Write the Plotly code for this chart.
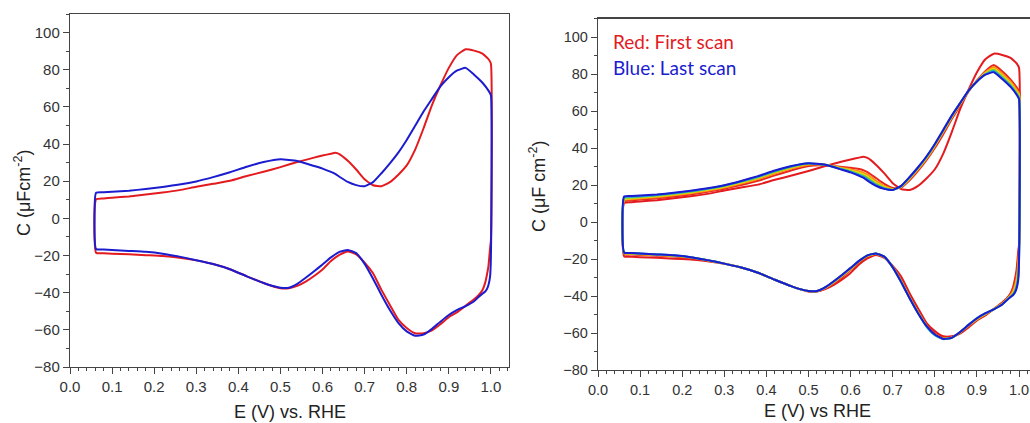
import plotly.graph_objects as go

# ---------------- data ----------------
# Anodic (upper) sweep potentials, V vs RHE
E_up = [0.062, 0.08, 0.10, 0.14, 0.18, 0.22, 0.26, 0.30, 0.34, 0.38, 0.42, 0.46, 0.50,
        0.54, 0.58, 0.60, 0.62, 0.63, 0.64, 0.66, 0.68, 0.70, 0.72, 0.74, 0.76, 0.78,
        0.80, 0.82, 0.84, 0.86, 0.88, 0.90, 0.92, 0.94, 0.96, 0.98, 0.995, 1.0]
# Cathodic (lower) sweep potentials, V vs RHE
E_dn = [1.0, 0.998, 0.994, 0.99, 0.986, 0.98, 0.97, 0.96, 0.94, 0.92, 0.90, 0.88, 0.86,
        0.84, 0.82, 0.80, 0.78, 0.76, 0.74, 0.72, 0.70, 0.68, 0.66, 0.64, 0.62, 0.60,
        0.58, 0.56, 0.54, 0.52, 0.50, 0.48, 0.46, 0.42, 0.38, 0.34, 0.30, 0.26, 0.22,
        0.18, 0.14, 0.10, 0.08, 0.062]

# Capacitance, uF cm^-2
first_up = [10.2, 10.7, 11.1, 11.8, 12.8, 13.9, 15.2, 17.0, 18.6, 20.2, 22.8, 25.1, 27.6,
            30.3, 32.7, 33.8, 34.8, 35.3, 34.6, 31.0, 26.3, 21.0, 17.8, 17.3, 19.5, 23.5,
            28.5, 37.0, 48.5, 61.0, 71.5, 81.0, 88.0, 91.0, 90.3, 88.7, 85.5, 83.3]
first_dn = [-12.0, -16.1, -26.0, -31.0, -35.0, -38.5, -41.5, -43.5, -47.0, -50.5, -53.2,
            -57.0, -60.3, -61.8, -61.8, -59.0, -54.5, -46.6, -38.5, -29.5, -23.8, -19.4,
            -17.8, -19.7, -23.0, -27.5, -31.0, -34.0, -36.3, -37.6, -37.6, -36.4, -34.8,
            -31.2, -27.4, -24.6, -22.6, -21.2, -20.3, -19.8, -19.3, -19.0, -18.8, -18.5]

scan2_up = [11.2, 11.7, 12.1, 12.8, 13.8, 14.9, 16.3, 18.0, 20.0, 22.3, 25.2, 28.0, 30.3,
            30.6, 29.8, 29.3, 28.6, 28.0, 27.0, 23.8, 20.6, 18.4, 18.6, 22.5, 27.6, 33.4,
            40.0, 47.5, 55.5, 63.0, 70.5, 76.5, 81.5, 84.8, 81.5, 77.0, 72.5, 70.5]
scan2_dn = [-13.0, -20.0, -28.0, -32.5, -35.8, -38.8, -41.8, -43.8, -47.1, -50.2, -53.0,
            -56.3, -59.9, -62.3, -62.6, -60.4, -55.6, -48.0, -40.0, -31.0, -24.2, -19.0,
            -17.4, -18.8, -22.0, -26.0, -29.8, -33.0, -35.8, -37.4, -37.4, -36.3, -34.8,
            -31.2, -27.4, -24.6, -22.5, -20.8, -19.4, -18.6, -18.2, -17.8, -17.6, -17.4]

scan3_up = [11.8, 12.3, 12.7, 13.4, 14.4, 15.5, 16.9, 18.6, 20.8, 23.2, 26.2, 29.0, 31.0,
            30.9, 29.2, 28.4, 27.4, 26.7, 25.6, 22.3, 19.5, 17.9, 18.9, 23.2, 28.4, 34.2,
            41.0, 48.6, 56.4, 63.6, 70.8, 76.3, 80.9, 83.8, 80.2, 75.8, 71.3, 69.5]
scan3_dn = [-15.0, -23.0, -30.5, -34.5, -37.0, -39.5, -42.0, -44.2, -47.1, -49.8, -52.6,
            -56.0, -59.7, -62.5, -62.9, -60.8, -56.0, -48.6, -40.6, -31.7, -24.4, -18.9,
            -17.2, -18.4, -21.5, -25.5, -29.2, -32.7, -35.6, -37.3, -37.3, -36.3, -34.8,
            -31.2, -27.4, -24.6, -22.5, -20.7, -19.2, -18.3, -17.9, -17.5, -17.2, -17.0]

scan4_up = [12.3, 12.8, 13.2, 13.9, 14.9, 16.0, 17.4, 19.1, 21.3, 23.8, 26.8, 29.5, 31.3,
            30.9, 28.9, 27.9, 26.6, 25.7, 24.6, 21.3, 18.9, 17.6, 19.1, 23.6, 28.8, 34.6,
            41.4, 49.0, 56.8, 63.9, 70.9, 76.2, 80.4, 82.9, 79.2, 74.9, 70.2, 68.6]
scan4_dn = [-17.0, -26.0, -32.5, -36.0, -38.3, -40.0, -42.2, -44.4, -47.1, -49.6, -52.3,
            -55.8, -59.6, -62.5, -63.1, -61.0, -56.3, -48.9, -40.9, -32.1, -24.5, -18.8,
            -17.1, -18.2, -21.2, -25.2, -28.9, -32.4, -35.5, -37.3, -37.3, -36.3, -34.8,
            -31.2, -27.4, -24.6, -22.5, -20.7, -19.1, -18.2, -17.7, -17.3, -17.0, -16.8]

scan5_up = [12.8, 13.2, 13.6, 14.3, 15.3, 16.4, 17.8, 19.5, 21.7, 24.2, 27.2, 29.9, 31.5,
            30.9, 28.6, 27.4, 25.9, 25.0, 23.8, 20.6, 18.4, 17.4, 19.3, 23.9, 29.1, 34.9,
            41.7, 49.3, 57.1, 64.1, 71.0, 76.1, 80.0, 82.2, 78.4, 74.1, 69.4, 67.6]
scan5_dn = [-18.5, -28.5, -34.0, -37.2, -38.9, -40.2, -42.3, -44.5, -47.2, -49.5, -52.1,
            -55.7, -59.5, -62.6, -63.2, -61.1, -56.4, -49.1, -41.0, -32.3, -24.5, -18.7,
            -17.0, -18.1, -21.1, -25.0, -28.7, -32.2, -35.4, -37.3, -37.3, -36.3, -34.8,
            -31.2, -27.4, -24.6, -22.5, -20.6, -19.0, -18.1, -17.6, -17.1, -16.9, -16.6]

scan6_up = [13.3, 13.6, 13.9, 14.6, 15.6, 16.7, 18.0, 19.7, 22.0, 24.5, 27.5, 30.1, 31.7,
            30.9, 28.4, 27.1, 25.5, 24.5, 23.1, 20.1, 18.1, 17.3, 19.4, 24.1, 29.4, 35.2,
            42.0, 49.6, 57.3, 64.2, 71.0, 76.0, 79.8, 81.6, 77.8, 73.5, 68.9, 66.9]
scan6_dn = [-19.5, -30.0, -35.0, -37.8, -39.2, -40.4, -42.4, -44.6, -47.2, -49.4, -52.0,
            -55.6, -59.5, -62.6, -63.3, -61.2, -56.5, -49.2, -41.1, -32.4, -24.5, -18.7,
            -17.0, -18.0, -21.0, -24.9, -28.6, -32.1, -35.3, -37.3, -37.3, -36.3, -34.8,
            -31.2, -27.4, -24.6, -22.5, -20.6, -19.0, -18.0, -17.5, -17.0, -16.8, -16.5]

last_up = [13.8, 14.1, 14.3, 14.9, 15.8, 16.9, 18.2, 19.9, 22.2, 24.8, 27.8, 30.3, 31.8,
           30.9, 28.2, 26.8, 25.0, 24.0, 22.4, 19.6, 17.9, 17.3, 19.5, 24.3, 29.6, 35.4,
           42.2, 49.8, 57.5, 64.3, 71.0, 76.0, 79.6, 81.0, 77.3, 73.0, 68.5, 66.3]
last_dn = [-20.6, -31.4, -36.0, -38.3, -39.5, -40.5, -42.5, -44.6, -47.2, -49.3, -52.0,
           -55.6, -59.5, -62.6, -63.2, -60.8, -56.2, -49.3, -41.2, -32.5, -24.5, -18.7,
           -17.0, -18.0, -21.0, -24.8, -28.5, -32.0, -35.2, -37.3, -37.3, -36.3, -34.8,
           -31.2, -27.4, -24.6, -22.5, -20.6, -19.0, -18.0, -17.5, -17.0, -16.8, -16.5]

x_ticks = [0.0, 0.1, 0.2, 0.3, 0.4, 0.5, 0.6, 0.7, 0.8, 0.9, 1.0]
y_ticks = [-80, -60, -40, -20, 0, 20, 40, 60, 80, 100]

RED = "#e31b1f"
BLUE = "#1b1bcf"
right_scans = [
    (first_up, first_dn, RED),
    (scan2_up, scan2_dn, "#e8261f"),
    (scan3_up, scan3_dn, "#ff8a12"),
    (scan4_up, scan4_dn, "#e8d80c"),
    (scan5_up, scan5_dn, "#6ccf2e"),
    (scan6_up, scan6_dn, "#22a8e8"),
    (last_up, last_dn, BLUE),
]


def loop(up, dn):
    xs = list(E_up) + list(E_dn) + [E_up[0]]
    ys = list(up) + list(dn) + [up[0]]
    return xs, ys


fig = go.Figure()

LINE = dict(width=2, shape="spline", smoothing=0.45)

# left panel
for up, dn, col in [(first_up, first_dn, RED), (last_up, last_dn, BLUE)]:
    xs, ys = loop(up, dn)
    fig.add_trace(go.Scatter(x=xs, y=ys, mode="lines", line=dict(color=col, **LINE),
                             xaxis="x", yaxis="y", showlegend=False, hoverinfo="skip"))

# right panel
for up, dn, col in right_scans:
    xs, ys = loop(up, dn)
    fig.add_trace(go.Scatter(x=xs, y=ys, mode="lines", line=dict(color=col, **LINE),
                             xaxis="x2", yaxis="y2", showlegend=False, hoverinfo="skip"))

FONT = "Arial, Liberation Sans, sans-serif"
AX = "#444444"
TICKC = "#333333"
TITLEC = "#222222"

W, H = 1030, 423


def xax(domain, rng, mirror, tsize, anchor):
    return dict(domain=domain, range=rng, tickvals=x_ticks, anchor=anchor,
                ticktext=[f"{v:.1f}" for v in x_ticks], automargin=False,
                ticks="outside", ticklen=6, tickwidth=1, tickcolor=AX,
                minor=dict(ticks="outside", ticklen=3, dtick=0.02, tick0=0, tickcolor=AX),
                showline=True, linecolor=AX, linewidth=1.2, mirror=mirror,
                showgrid=False, zeroline=False,
                tickfont=dict(family=FONT, size=tsize, color=TICKC))


def yax(domain, anchor, mirror, tsize):
    return dict(domain=domain, range=[-80, 110], tickvals=y_ticks,
                anchor=anchor, automargin=False,
                ticks="outside", ticklen=6, tickwidth=1, tickcolor=AX,
                minor=dict(ticks="outside", ticklen=3, dtick=10, tick0=0, tickcolor=AX),
                showline=True, linecolor=AX, linewidth=1.2, mirror=mirror,
                showgrid=False, zeroline=False,
                tickfont=dict(family=FONT, size=tsize, color=TICKC))


def ptext(text, x, y, size, color, family, angle=0, xanchor="center"):
    return dict(text=text, x=x / W, y=1 - y / H, xref="paper", yref="paper",
                xanchor=xanchor, yanchor="middle", showarrow=False, textangle=angle,
                font=dict(family=family, size=size, color=color))


fig.update_layout(
    width=W, height=H,
    margin=dict(l=0, r=0, t=0, b=0, autoexpand=False),
    paper_bgcolor="white", plot_bgcolor="white",
    xaxis=xax([70 / W, 509 / W], [0, 1.043], True, 15, "y"),
    yaxis=yax([1 - 367 / H, 1 - 14 / H], "x", True, 15),
    xaxis2=xax([598 / W, 1.0], [0, 1.026], True, 14.5, "y2"),
    yaxis2=yax([1 - 370 / H, 1 - 18.5 / H], "x2", False, 14.5),
    annotations=[
        ptext("E (V) vs. RHE", 290, 412, 18, TITLEC, FONT),
        ptext("E (V) vs RHE", 817, 411, 18, TITLEC, FONT),
        ptext("C (\u03bcFcm<sup>-2</sup>)", 22, 193, 18, TITLEC, FONT, angle=-90),
        ptext("C (\u03bcF cm<sup>-2</sup>)", 537, 186, 18, TITLEC, FONT, angle=-90),
        ptext("Red: First scan", 611, 41, 19, RED, "Lato, Carlito, sans-serif", xanchor="left"),
        ptext("Blue: Last scan", 611, 67, 19, BLUE, "Lato, Carlito, sans-serif", xanchor="left"),
    ],
)

fig.write_html(
    "out.html",
    config={"displayModeBar": False, "staticPlot": True},
    post_script="document.body.style.margin='0px';document.body.style.overflow='hidden';",
)
